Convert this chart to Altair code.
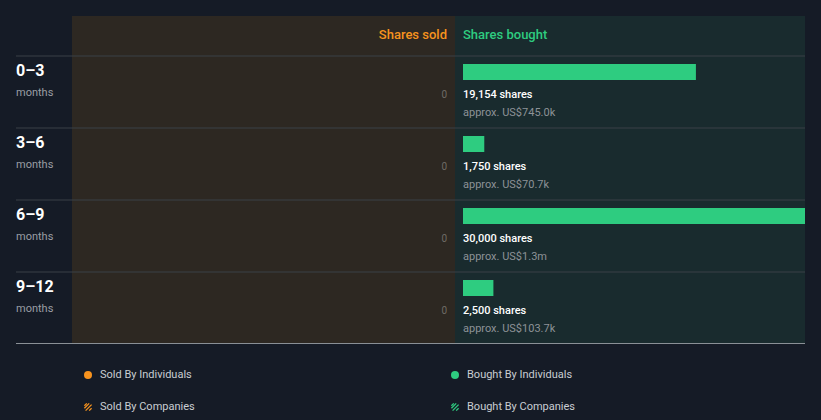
import altair as alt
import pandas as pd

periods = ["0–3", "3–6", "6–9", "9–12"]
period_unit = ["months", "months", "months", "months"]
shares_bought = [19154, 1750, 30000, 2500]
value_bought = ["approx. US$745.0k", "approx. US$70.7k", "approx. US$1.3m", "approx. US$103.7k"]
shares_sold = [0, 0, 0, 0]

legend_labels = ["Sold By Individuals", "Bought By Individuals", "Sold By Companies", "Bought By Companies"]

BG = "#151b26"
SOLD_BG = "#2d2822"
BOUGHT_BG = "#192b2e"
GREEN = "#2ecc80"
ORANGE = "#f7931e"
FONT = "Roboto"

df = pd.DataFrame({
    "period": periods,
    "unit": period_unit,
    "bought": shares_bought,
    "bought_label": [f"{v:,} shares" for v in shares_bought],
    "value_label": value_bought,
    "sold": shares_sold,
})

yscale = alt.Scale(type="band", domain=periods, range=[56, 344], paddingInner=0, paddingOuter=0)
Y = alt.Y("period:N", scale=yscale, axis=None)

base = alt.Chart(df)
one = "datum.period == '0–3'"

sold_bg = base.mark_rect(color=SOLD_BG).encode(
    x=alt.value(72), x2=alt.value(455), y=alt.value(16), y2=alt.value(343)
).transform_filter(one)
bought_bg = base.mark_rect(color=BOUGHT_BG).encode(
    x=alt.value(455), x2=alt.value(805), y=alt.value(16), y2=alt.value(343)
).transform_filter(one)

sep = base.mark_rule(color="#3a4047", strokeWidth=1).encode(
    y=alt.Y("period:N", scale=yscale, axis=None, bandPosition=0),
    x=alt.value(16), x2=alt.value(805),
)
bottom = base.mark_rule(color="#8a9096", strokeWidth=1).encode(
    y=alt.value(343.5), x=alt.value(16), x2=alt.value(805)
).transform_filter(one)

hdr_sold = base.mark_text(text="Shares sold", color=ORANGE, font=FONT, fontSize=13, fontWeight=500,
                          align="right", baseline="middle").encode(
    x=alt.value(447), y=alt.value(35)).transform_filter(one)
hdr_bought = base.mark_text(text="Shares bought", color=GREEN, font=FONT, fontSize=13, fontWeight=500,
                            align="left", baseline="middle").encode(
    x=alt.value(463), y=alt.value(35)).transform_filter(one)

bars = base.mark_bar(color=GREEN, size=16, yOffset=-20).encode(
    y=Y,
    x=alt.X("bought:Q", scale=alt.Scale(domain=[0, 28125], range=[463, 805], clamp=True), axis=None),
    x2=alt.value(463),
)

lbl_shares = base.mark_text(color="#ffffff", font=FONT, fontSize=11, fontWeight=500, align="left",
                            baseline="middle", yOffset=3).encode(
    y=Y, x=alt.value(463), text="bought_label:N")
lbl_value = base.mark_text(color="#8d9297", font=FONT, fontSize=11, align="left",
                           baseline="middle", yOffset=21).encode(
    y=Y, x=alt.value(463), text="value_label:N")
lbl_sold = base.mark_text(color="#6f6b66", font=FONT, fontSize=10, align="right",
                          baseline="middle", yOffset=3).encode(
    y=Y, x=alt.value(447), text="sold:Q")

row_lbl = base.mark_text(color="#ffffff", font=FONT, fontSize=16, fontWeight="bold", align="left",
                         baseline="middle", yOffset=-21).encode(
    y=Y, x=alt.value(16), text="period:N")
row_unit = base.mark_text(color="#9a9ea4", font=FONT, fontSize=11, align="left",
                          baseline="middle", yOffset=1).encode(
    y=Y, x=alt.value(16), text="unit:N")

leg_pos = [(88, 375), (455, 375), (88, 407), (455, 407)]
leg_layers = []
for (lx, ly), lab in zip(leg_pos, legend_labels):
    col = ORANGE if lab.startswith("Sold") else GREEN
    if "Individuals" in lab:
        sym = base.mark_point(shape="circle", filled=True, color=col, size=64, opacity=1).encode(
            x=alt.value(lx), y=alt.value(ly)).transform_filter(one)
    else:
        sym = base.mark_point(shape="M-0.9,0.3L0.3,-0.9M-0.6,0.9L0.9,-0.6M-0.9,-0.3L-0.3,-0.9M0.3,0.9L0.9,0.3",
                              filled=False, color=col, size=64, strokeWidth=1.3, opacity=1).encode(
            x=alt.value(lx), y=alt.value(ly)).transform_filter(one)
    txt = base.mark_text(text=lab, color="#c9cdd2", font=FONT, fontSize=11, align="left",
                         baseline="middle").encode(x=alt.value(lx + 12), y=alt.value(ly)).transform_filter(one)
    leg_layers += [sym, txt]

chart = alt.layer(
    sold_bg, bought_bg, sep, bottom, hdr_sold, hdr_bought, bars,
    lbl_shares, lbl_value, lbl_sold, row_lbl, row_unit, *leg_layers
).properties(
    width=821, height=420, background=BG, padding=0,
    autosize=alt.AutoSizeParams(type="none"),
).configure_view(stroke=None)

chart.save("out.html", embed_options={"renderer": "svg", "actions": False})
